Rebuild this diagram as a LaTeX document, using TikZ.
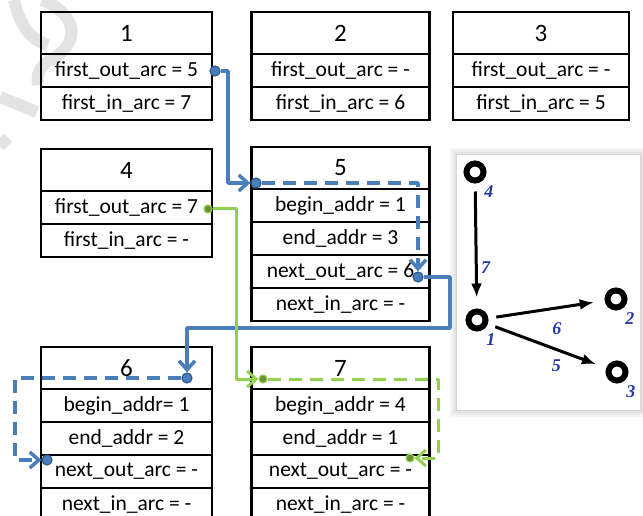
\documentclass[tikz,border=0pt]{standalone}
\usepackage{fontspec}
\setmainfont{Carlito}
\newfontfamily\gfont{Liberation Serif}
\usetikzlibrary{arrows.meta,positioning,backgrounds}
\definecolor{arcblue}{RGB}{74,126,187}
\definecolor{arcbluedk}{RGB}{52,90,140}
\definecolor{arcgreen}{RGB}{146,208,80}
\definecolor{arcgreendk}{RGB}{110,140,50}
\definecolor{numblue}{RGB}{35,55,175}
\tikzset{
  hdr/.style={draw, line width=2.6pt, minimum height=42pt, inner sep=0pt, font=\fontsize{25}{29}\selectfont},
  fld/.style={draw, line width=2.6pt, minimum height=33pt, inner sep=0pt, font=\fontsize{21.5}{25}\selectfont},
  bdot/.style={circle, fill=arcblue, draw=arcbluedk, line width=1.2pt, minimum size=10pt, inner sep=0pt},
  gdot/.style={circle, fill=arcgreendk, draw=arcgreen, line width=1.2pt, minimum size=8pt, inner sep=0pt},
  chev/.style={-{Straight Barb[length=9pt,width=16pt]}},
  barc/.style={chev, draw=arcblue, line width=3.5pt, line join=round},
  garc/.style={chev, draw=arcgreen, line width=3pt, line join=round},
  bdash/.style={barc, dash pattern=on 13pt off 8pt},
  gdash/.style={garc, dash pattern=on 13pt off 8pt},
  wmark/.style={draw=gray!22, line width=12pt},
  gnode/.style={circle, draw, line width=6pt, minimum size=17pt, inner sep=0pt, label distance=3pt},
  gnum/.style={font=\gfont\bfseries\itshape\fontsize{18}{20}\selectfont, text=numblue},
  gedge/.style={-{Latex[length=14pt,width=11pt]}, line width=3pt, shorten <=8pt, shorten >=11pt}
}
\begin{document}
\begin{tikzpicture}[x=1pt,y=-1pt]
    \useasboundingbox (0,0) rectangle (643,516);
    \def\wa{171pt}
    \def\wb{178pt}
    \def\wc{176pt}
    \path[wmark] (14,0) .. controls (20,25) and (30,40) .. (48,45);
    \path[wmark] (42,0) .. controls (80,15) and (80,45) .. (50,60) .. controls (40,66) and (36,75) .. (38,85);
    \path[wmark] (0,97) -- (37,112);
    \path[wmark] (0,138) -- (8,146);
    \node[hdr,minimum width=\wa] (B1_0) at (126.5, 33) {1};
    \node[fld,minimum width=\wa] (B1_1) at (126.5, 70.5) {first\_out\_arc = 5};
    \node[fld,minimum width=\wa] (B1_2) at (126.5, 103.5) {first\_in\_arc = 7};
    \node[hdr,minimum width=\wb] (B2_0) at (340.5, 33) {2};
    \node[fld,minimum width=\wb] (B2_1) at (340.5, 70.5) {first\_out\_arc = -};
    \node[fld,minimum width=\wb] (B2_2) at (340.5, 103.5) {first\_in\_arc = 6};
    \node[hdr,minimum width=\wc] (B3_0) at (541, 33) {3};
    \node[fld,minimum width=\wc] (B3_1) at (541, 70.5) {first\_out\_arc = -};
    \node[fld,minimum width=\wc] (B3_2) at (541, 103.5) {first\_in\_arc = 5};
    \node[hdr,minimum width=\wa] (B4_0) at (126.5, 170) {4};
    \node[fld,minimum width=\wa] (B4_1) at (126.5, 207.5) {first\_out\_arc = 7};
    \node[fld,minimum width=\wa] (B4_2) at (126.5, 240.5) {first\_in\_arc = -};
    \node[hdr,minimum width=\wb] (B5_0) at (340.5, 168) {5};
    \node[fld,minimum width=\wb] (B5_1) at (340.5, 205.5) {begin\_addr = 1};
    \node[fld,minimum width=\wb] (B5_2) at (340.5, 238.5) {end\_addr = 3};
    \node[fld,minimum width=\wb] (B5_3) at (340.5, 271.5) {next\_out\_arc = 6};
    \node[fld,minimum width=\wb] (B5_4) at (340.5, 304.5) {next\_in\_arc = -};
    \node[hdr,minimum width=\wa] (B6_0) at (126.5, 368) {6};
    \node[fld,minimum width=\wa] (B6_1) at (126.5, 405.5) {begin\_addr= 1};
    \node[fld,minimum width=\wa] (B6_2) at (126.5, 438.5) {end\_addr = 2};
    \node[fld,minimum width=\wa] (B6_3) at (126.5, 471.5) {next\_out\_arc = -};
    \node[fld,minimum width=\wa] (B6_4) at (126.5, 504.5) {next\_in\_arc = -};
    \node[hdr,minimum width=\wb] (B7_0) at (340.5, 368) {7};
    \node[fld,minimum width=\wb] (B7_1) at (340.5, 405.5) {begin\_addr = 4};
    \node[fld,minimum width=\wb] (B7_2) at (340.5, 438.5) {end\_addr = 1};
    \node[fld,minimum width=\wb] (B7_3) at (340.5, 471.5) {next\_out\_arc = -};
    \node[fld,minimum width=\wb] (B7_4) at (340.5, 504.5) {next\_in\_arc = -};
    \node[bdot] (D1) at (215, 71) {};
    \node[bdot] (D5a) at (256, 183) {};
    \node[bdot] (D5b) at (418, 277) {};
    \node[bdot] (D6a) at (187, 378) {};
    \node[bdot] (D6b) at (47, 460) {};
    \node[gdot] (G4) at (208, 209) {};
    \node[gdot] (G7a) at (263, 379) {};
    \node[gdot] (G7b) at (410, 458) {};
    \draw[barc] (D1) -- ++(13,0) |- (D5a);
    \draw[bdash] (D5a) -| (D5b);
    \draw[barc] (D5b) -- ++(32,0) -- ++(0,51) -| (D6a);
    \draw[bdash] (D6a) -- ++(-172,0) |- (D6b);
    \draw[garc] (G4) -- ++(28,0) |- (G7a);
    \draw[gdash] (G7a) -- ++(175,0) |- (G7b);
    \node[fill=white, minimum width=183pt, minimum height=255pt, inner sep=0pt] (P) at (548.5, 282.5) {};
    \begin{pgfonlayer}{background}
      \foreach \s/\c in {7/8,5/14,3/22,1/32}
        \fill[gray!\c] ([shift={(-\s,-\s)}]P.north west) rectangle ([shift={(\s,\s)}]P.south east);
    \end{pgfonlayer}
    \node[gnode, label={[gnum]-60:4}] (V4) at (475, 172) {};
    \node[gnode, label={[gnum]-60:1}] (V1) at (477, 320) {};
    \node[gnode, label={[gnum]-60:2}] (V2) at (616, 299) {};
    \node[gnode, label={[gnum]-60:3}] (V3) at (617, 372) {};
    \path (V4) edge [gedge] node [gnum, pos=.67, right] {7} (V1);
    \path (V1) edge [gedge] node [gnum, pos=.59, below=10pt] {6} (V2);
    \path (V1) edge [gedge] node [gnum, pos=.58, below=5pt] {5} (V3);
\end{tikzpicture}
\end{document}
